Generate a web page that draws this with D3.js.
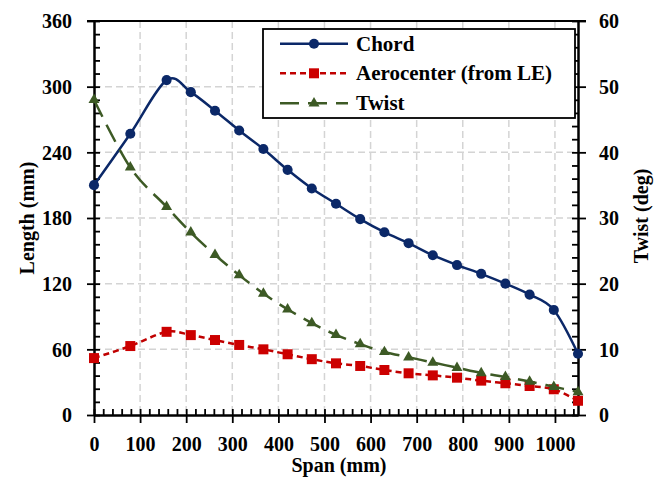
<!DOCTYPE html>
<html>
<head>
<meta charset="utf-8">
<script src="https://cdn.jsdelivr.net/npm/d3@7"></script>
<style>
  html, body { margin: 0; padding: 0; background: #fff; }
  svg text { font-family: "Liberation Serif", "Times New Roman", serif; font-weight: bold; fill: #000; }
</style>
</head>
<body>
<svg id="chart" width="661" height="477"></svg>
<script>
// Blade geometry along the span
const span = [0, 78.75, 157.5, 210, 262.5, 315, 367.5, 420, 472.5, 525, 577.5, 630, 682.5, 735, 787.5, 840, 892.5, 945, 997.5, 1050];
const chord = [210, 257, 306, 295, 278, 260, 243, 224, 207, 193, 179, 167, 157, 146, 137, 129, 120, 110, 96, 56];
const aerocenter = [52, 63, 76, 73, 68.5, 64, 60, 55.5, 51, 47.2, 44.8, 41.1, 38.1, 36.2, 34.1, 31.4, 29, 26.5, 23.5, 13];
const twist = [48, 37.7, 31.7, 27.8, 24.4, 21.3, 18.5, 16.1, 14.0, 12.2, 10.8, 9.6, 8.8, 8.0, 7.2, 6.4, 5.8, 5.1, 4.3, 3.5];

const xTicks = [0, 100, 200, 300, 400, 500, 600, 700, 800, 900, 1000];
const yLeftTicks = [0, 60, 120, 180, 240, 300, 360];
const yRightTicks = [0, 10, 20, 30, 40, 50, 60];
const seriesNames = ["Chord", "Aerocenter (from LE)", "Twist"];

const svg = d3.select("#chart");
const L = 94, R = 578, T = 21, B = 415;

const x = d3.scaleLinear().domain([0, 1050]).range([L, R]);
const yL = d3.scaleLinear().domain([0, 360]).range([B, T]);
const yR = d3.scaleLinear().domain([0, 60]).range([B, T]);

// grid
const grid = svg.append("g").attr("stroke", "#d4d4d4").attr("stroke-width", 1.5).attr("stroke-dasharray", "7,4");
grid.selectAll("line.v").data(xTicks.filter(d => d > 0)).join("line")
  .attr("x1", d => x(d)).attr("x2", d => x(d)).attr("y1", T).attr("y2", B);
grid.selectAll("line.h").data(yLeftTicks.filter(d => d > 0 && d < 360)).join("line")
  .attr("x1", L).attr("x2", R).attr("y1", d => yL(d)).attr("y2", d => yL(d));

// top border
svg.append("line").attr("x1", L - 7).attr("x2", R + 8).attr("y1", T).attr("y2", T)
  .attr("stroke", "#000").attr("stroke-width", 2);

function styleAxis(g) {
  g.selectAll(".domain").attr("stroke", "#000").attr("stroke-width", 2);
  g.selectAll(".tick line").attr("stroke", "#000").attr("stroke-width", 1.8);
  g.selectAll("text").style("font-size", "20px").attr("font-family", null).attr("fill", "#000");
}

// minor (inside) ticks
svg.append("g").attr("transform", `translate(${L},0)`)
  .call(d3.axisLeft(yL).tickValues(d3.range(0, 361, 12)).tickSizeInner(-6).tickSizeOuter(0).tickFormat(""))
  .call(styleAxis);
svg.append("g").attr("transform", `translate(${R},0)`)
  .call(d3.axisRight(yR).tickValues(d3.range(0, 61, 2)).tickSizeInner(-6).tickSizeOuter(0).tickFormat(""))
  .call(styleAxis);
svg.append("g").attr("transform", `translate(0,${B})`)
  .call(d3.axisBottom(x).tickValues(d3.range(0, 1051, 20)).tickSizeInner(-6).tickSizeOuter(0).tickFormat(""))
  .call(styleAxis);

// major ticks crossing outward with labels
const gL = svg.append("g").attr("transform", `translate(${L},0)`)
  .call(d3.axisLeft(yL).tickValues(yLeftTicks).tickSizeInner(7).tickSizeOuter(0).tickPadding(15))
  .call(styleAxis);
gL.selectAll(".tick text").attr("dy", "0.34em");
const gR = svg.append("g").attr("transform", `translate(${R},0)`)
  .call(d3.axisRight(yR).tickValues(yRightTicks).tickSizeInner(8).tickSizeOuter(0).tickPadding(13))
  .call(styleAxis);
gR.selectAll(".tick text").attr("dy", "0.34em");
const gB = svg.append("g").attr("transform", `translate(0,${B})`)
  .call(d3.axisBottom(x).tickValues(xTicks).tickFormat(d3.format("d")).tickSizeInner(8).tickSizeOuter(0).tickPadding(14))
  .call(styleAxis);

// axis titles
svg.append("text").attr("transform", `translate(34,218) rotate(-90)`)
  .attr("text-anchor", "middle").style("font-size", "20px").text("Length (mm)");
svg.append("text").attr("transform", `translate(648,216) rotate(-90)`)
  .attr("text-anchor", "middle").style("font-size", "20px").text("Twist (deg)");
svg.append("text").attr("x", 339).attr("y", 472)
  .attr("text-anchor", "middle").style("font-size", "20px").text("Span (mm)");

// series
const curve = d3.curveCardinal.tension(0);
const series = [
  { name: seriesNames[0], values: chord, y: yL, color: "#0b2868", dash: null, symbol: d3.symbolCircle, size: 80 },
  { name: seriesNames[1], values: aerocenter, y: yL, color: "#c00000", dash: "6,4", symbol: d3.symbolSquare, size: 100 },
  { name: seriesNames[2], values: twist, y: yR, color: "#3d5a25", dash: "19,9", symbol: d3.symbolTriangle, size: 52 }
];

series.forEach(s => {
  const line = d3.line().x((d, i) => x(span[i])).y(d => s.y(d)).curve(curve);
  svg.append("path").datum(s.values).attr("d", line)
    .attr("fill", "none").attr("stroke", s.color).attr("stroke-width", 2.5)
    .attr("stroke-dasharray", s.dash);
  svg.append("g").selectAll("path").data(s.values).join("path")
    .attr("transform", (d, i) => `translate(${x(span[i])},${s.y(d)})`)
    .attr("d", d3.symbol().type(s.symbol).size(s.size))
    .attr("fill", s.color === "#c00000" ? "#cc0000" : s.color);
});

// legend
const lg = svg.append("g");
lg.append("rect").attr("x", 263).attr("y", 29).attr("width", 312).attr("height", 89)
  .attr("fill", "#fff").attr("stroke", "#000").attr("stroke-width", 1.8);
const rowY = [43.7, 73.3, 103.3];
series.forEach((s, i) => {
  const yy = rowY[i];
  lg.append("line").attr("x1", 280).attr("x2", 348).attr("y1", yy).attr("y2", yy)
    .attr("stroke", s.color).attr("stroke-width", 2.5).attr("stroke-dasharray", s.dash);
  lg.append("path").attr("transform", `translate(314,${yy})`)
    .attr("d", d3.symbol().type(s.symbol).size(s.size))
    .attr("fill", s.color === "#c00000" ? "#cc0000" : s.color);
  lg.append("text").attr("x", 356).attr("y", yy).attr("dy", "0.34em")
    .style("font-size", "21px").text(s.name);
});
</script>
</body>
</html>
